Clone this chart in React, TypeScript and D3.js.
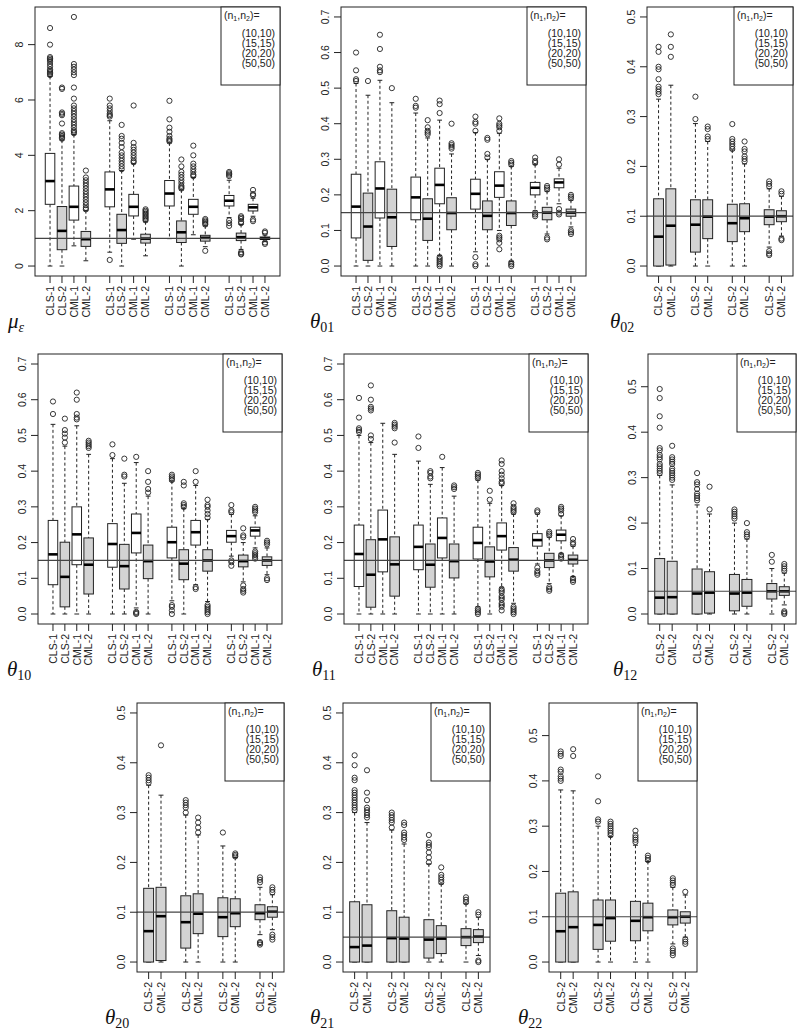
import React from "react";
import * as d3 from "d3";

const methods4 = ["CLS-1", "CLS-2", "CML-1", "CML-2"];
const methods2 = ["CLS-2", "CML-2"];
const sampleSizes = ["(10,10)", "(15,15)", "(20,20)", "(50,50)"];
const trueValues = [1, 0.15, 0.1, 0.15, 0.15, 0.05, 0.1, 0.05, 0.1];

// each box: [lower whisker, q1, median, q3, upper whisker]
const muStats = [
  [0, 2.23, 3.07, 4.07, 6.85], [0, 0.59, 1.27, 2.15, 4.55], [0.73, 1.66, 2.14, 2.89, 4.75], [0.19, 0.71, 0.97, 1.25, 2.0],
  [0.5, 2.14, 2.77, 3.4, 5.25], [0, 0.82, 1.3, 1.87, 3.45], [0.97, 1.81, 2.14, 2.59, 3.7], [0.37, 0.83, 0.99, 1.15, 1.6],
  [0.99, 2.17, 2.62, 3.09, 4.45], [0, 0.85, 1.22, 1.63, 2.75], [1.13, 1.87, 2.14, 2.41, 3.2], [0.7, 0.9, 1.02, 1.11, 1.45],
  [1.75, 2.17, 2.36, 2.55, 3.1], [0.6, 0.92, 1.04, 1.19, 1.5], [1.8, 1.99, 2.12, 2.23, 2.45], [0.88, 0.96, 1.0, 1.05, 1.12],
];
const muOut = [
  [6.9, 6.95, 7.0, 7.05, 7.1, 7.2, 7.3, 7.4, 7.45, 7.5, 7.55, 8.0, 8.6],
  [4.6, 4.65, 4.7, 4.75, 4.8, 5.15, 5.45, 5.5, 5.55, 6.4, 6.45],
  [4.8, 4.85, 4.9, 5.0, 5.1, 5.2, 5.3, 5.4, 5.5, 5.6, 5.7, 5.8, 6.05, 6.45, 6.9, 7.0, 7.1, 7.2, 7.3, 9.0],
  [2.05, 2.1, 2.2, 2.3, 2.4, 2.5, 2.6, 2.7, 2.8, 2.9, 3.0, 3.1, 3.2, 3.45],
  [0.22, 5.4, 5.45, 5.5, 5.6, 5.7, 5.8, 6.05],
  [3.5, 3.6, 3.7, 3.8, 3.9, 4.0, 4.1, 4.3, 4.45, 4.6, 4.7, 5.1],
  [3.75, 3.8, 3.9, 4.0, 4.1, 4.2, 4.3, 4.45, 5.8],
  [1.65, 1.7, 1.75, 1.8, 1.85, 1.9, 1.95, 2.0, 2.05],
  [4.5, 4.55, 4.6, 4.7, 4.85, 5.0, 5.3, 5.97],
  [2.8, 2.85, 2.9, 3.0, 3.1, 3.2, 3.3, 3.4, 3.6, 3.85],
  [3.25, 3.3, 3.4, 3.5, 3.6, 3.7, 4.0, 4.35],
  [0.55, 1.5, 1.55, 1.6, 1.65, 1.7],
  [1.45, 1.55, 1.65, 3.25, 3.3, 3.35, 3.4],
  [0.42, 0.45, 0.5, 1.55, 1.6, 1.7, 1.75, 1.8],
  [1.62, 1.68, 2.55, 2.6, 2.75],
  [0.8, 0.85, 1.2, 1.25],
];

const t01Stats = [
  [0, 0.079, 0.167, 0.258, 0.513], [0, 0.016, 0.111, 0.205, 0.48], [0, 0.135, 0.218, 0.293, 0.522], [0, 0.055, 0.137, 0.216, 0.459],
  [0, 0.13, 0.193, 0.25, 0.43], [0, 0.072, 0.133, 0.189, 0.36], [0.03, 0.175, 0.228, 0.275, 0.41], [0, 0.102, 0.149, 0.192, 0.315],
  [0.04, 0.16, 0.203, 0.244, 0.375], [0, 0.102, 0.141, 0.183, 0.3], [0.1, 0.193, 0.226, 0.265, 0.373], [0.013, 0.114, 0.149, 0.183, 0.28],
  [0.155, 0.2, 0.22, 0.235, 0.285], [0.09, 0.13, 0.15, 0.165, 0.21], [0.175, 0.22, 0.235, 0.245, 0.275], [0.11, 0.14, 0.15, 0.16, 0.185],
];
const t01Out = [
  [0.52, 0.525, 0.55, 0.6], [0.52], [0.545, 0.55, 0.56, 0.61, 0.65], [0.5],
  [0.445, 0.45, 0.47], [0.37, 0.375, 0.38, 0.39, 0.41], [0.0, 0.005, 0.01, 0.015, 0.02, 0.025, 0.43, 0.455, 0.465], [0.33, 0.335, 0.34, 0.345, 0.4],
  [0.0, 0.005, 0.025, 0.38, 0.4, 0.405, 0.42], [0.305, 0.315, 0.355, 0.36], [0.047, 0.065, 0.075, 0.08, 0.085, 0.38, 0.39, 0.395, 0.4, 0.415], [0.0, 0.005, 0.01, 0.285, 0.29, 0.295],
  [0.14, 0.145, 0.15, 0.29, 0.295, 0.305], [0.075, 0.08, 0.215, 0.22, 0.225], [0.145, 0.15, 0.16, 0.285, 0.3], [0.09, 0.095, 0.1, 0.19, 0.195, 0.2],
];

const t02Stats = [
  [0, 0, 0.059, 0.135, 0.335], [0, 0.002, 0.081, 0.155, 0.363],
  [0, 0.028, 0.083, 0.133, 0.286], [0, 0.055, 0.099, 0.133, 0.25],
  [0, 0.049, 0.086, 0.124, 0.233], [0, 0.069, 0.096, 0.125, 0.205],
  [0.038, 0.083, 0.099, 0.113, 0.155], [0.06, 0.089, 0.1, 0.111, 0.14],
];
const t02Out = [
  [0.345, 0.35, 0.355, 0.36, 0.375, 0.395, 0.4, 0.43, 0.44], [0.42, 0.44, 0.465],
  [0.295, 0.34], [0.255, 0.26, 0.275, 0.28],
  [0.235, 0.24, 0.245, 0.25, 0.255, 0.285], [0.21, 0.215, 0.22, 0.23, 0.235, 0.25],
  [0.022, 0.025, 0.03, 0.16, 0.165, 0.17], [0.052, 0.055, 0.145, 0.15],
];

const t10Stats = [
  [0, 0.082, 0.167, 0.262, 0.531], [0, 0.02, 0.104, 0.201, 0.47], [0, 0.138, 0.223, 0.3, 0.527], [0, 0.056, 0.138, 0.213, 0.447],
  [0, 0.131, 0.196, 0.253, 0.435], [0, 0.07, 0.134, 0.195, 0.366], [0.017, 0.171, 0.227, 0.28, 0.424], [0, 0.099, 0.148, 0.193, 0.33],
  [0.037, 0.157, 0.201, 0.243, 0.372], [0, 0.096, 0.141, 0.18, 0.295], [0.082, 0.193, 0.229, 0.262, 0.36], [0.035, 0.12, 0.15, 0.18, 0.265],
  [0.162, 0.201, 0.218, 0.234, 0.279], [0.09, 0.132, 0.148, 0.165, 0.2], [0.185, 0.218, 0.234, 0.243, 0.275], [0.11, 0.136, 0.15, 0.16, 0.185],
];
const t10Out = [
  [0.56, 0.595], [0.48, 0.494, 0.505, 0.515, 0.547], [0.545, 0.55, 0.56, 0.6, 0.62], [0.465, 0.47, 0.475, 0.48, 0.485],
  [0.445, 0.475], [0.385, 0.39, 0.435], [0, 0.003, 0.006, 0.44], [0.34, 0.35, 0.37, 0.4],
  [0, 0.01, 0.02, 0.025, 0.375, 0.38, 0.385, 0.39], [0.3, 0.305, 0.31, 0.36, 0.37], [0.07, 0.075, 0.37, 0.4], [0, 0.005, 0.01, 0.015, 0.02, 0.025, 0.27, 0.28, 0.29, 0.3, 0.305, 0.32],
  [0.135, 0.145, 0.15, 0.285, 0.29, 0.305], [0.06, 0.065, 0.07, 0.08, 0.215, 0.22, 0.24], [0.155, 0.16, 0.165, 0.17, 0.175, 0.285, 0.29, 0.295, 0.3], [0.095, 0.1, 0.195, 0.2, 0.205],
];

const t11Stats = [
  [0, 0.077, 0.168, 0.249, 0.5], [0, 0.019, 0.11, 0.208, 0.48], [0, 0.118, 0.209, 0.291, 0.534], [0, 0.05, 0.139, 0.216, 0.447],
  [0, 0.124, 0.188, 0.249, 0.428], [0, 0.075, 0.138, 0.196, 0.363], [0, 0.157, 0.213, 0.269, 0.41], [0, 0.101, 0.148, 0.196, 0.33],
  [0.02, 0.154, 0.199, 0.243, 0.375], [0, 0.104, 0.147, 0.188, 0.31], [0.075, 0.179, 0.218, 0.255, 0.36], [0.03, 0.12, 0.152, 0.186, 0.28],
  [0.14, 0.19, 0.207, 0.225, 0.28], [0.085, 0.13, 0.15, 0.17, 0.215], [0.17, 0.205, 0.222, 0.235, 0.275], [0.105, 0.14, 0.152, 0.165, 0.19],
];
const t11Out = [
  [0.51, 0.515, 0.52, 0.55, 0.605], [0.49, 0.5, 0.57, 0.575, 0.58, 0.6, 0.64], [], [0.48, 0.52, 0.525, 0.53, 0.535],
  [0.465, 0.497], [0.38, 0.385, 0.395, 0.4], [0.44], [0.35, 0.355, 0.36],
  [0, 0.005, 0.01, 0.015, 0.38, 0.385, 0.39, 0.395], [0.32, 0.345],
  [0.01, 0.02, 0.025, 0.03, 0.04, 0.045, 0.05, 0.06, 0.065, 0.07, 0.365, 0.37, 0.38, 0.39, 0.4, 0.42, 0.43],
  [0, 0.005, 0.01, 0.015, 0.02, 0.285, 0.29, 0.295, 0.3, 0.31],
  [0.11, 0.115, 0.12, 0.13, 0.285, 0.29], [0.065, 0.07, 0.075, 0.22, 0.225, 0.23], [0.155, 0.16, 0.165, 0.28, 0.29, 0.295, 0.3], [0.09, 0.095, 0.1, 0.195, 0.2, 0.21],
];

const t12Stats = [
  [0, 0, 0.036, 0.122, 0.305], [0, 0, 0.037, 0.116, 0.284],
  [0, 0, 0.045, 0.099, 0.24], [0, 0.002, 0.047, 0.093, 0.22],
  [0, 0.007, 0.045, 0.087, 0.2], [0, 0.017, 0.047, 0.076, 0.165],
  [0, 0.033, 0.05, 0.067, 0.1], [0.02, 0.041, 0.05, 0.06, 0.09],
];
const t12Out = [
  [0.31, 0.315, 0.32, 0.325, 0.33, 0.34, 0.345, 0.35, 0.36, 0.365, 0.41, 0.435, 0.475, 0.495],
  [0.295, 0.3, 0.305, 0.31, 0.315, 0.32, 0.33, 0.335, 0.34, 0.345, 0.37],
  [0.25, 0.255, 0.26, 0.265, 0.275, 0.285, 0.29, 0.31], [0.23, 0.28],
  [0.21, 0.215, 0.22, 0.225, 0.23], [0.17, 0.175, 0.18, 0.2],
  [0.115, 0.13], [0, 0.003, 0.006, 0.095, 0.1, 0.105, 0.11],
];

const t20Stats = [
  [0, 0, 0.062, 0.148, 0.355], [0, 0.003, 0.092, 0.15, 0.335],
  [0, 0.028, 0.08, 0.133, 0.295], [0, 0.057, 0.097, 0.137, 0.255],
  [0, 0.051, 0.09, 0.129, 0.233], [0, 0.071, 0.098, 0.127, 0.21],
  [0.055, 0.085, 0.098, 0.115, 0.15], [0.065, 0.09, 0.101, 0.111, 0.135],
];
const t20Out = [
  [0.36, 0.365, 0.37, 0.375], [0.435],
  [0.3, 0.31, 0.315, 0.32, 0.325], [0.26, 0.27, 0.28, 0.29],
  [0.26], [0.212, 0.215, 0.218],
  [0.035, 0.038, 0.04, 0.16, 0.165, 0.17], [0.045, 0.05, 0.055, 0.14, 0.145, 0.15],
];

const t21Stats = [
  [0, 0, 0.03, 0.121, 0.3], [0, 0, 0.033, 0.115, 0.28],
  [0, 0, 0.048, 0.103, 0.265], [0, 0, 0.047, 0.09, 0.237],
  [0, 0.008, 0.045, 0.085, 0.197], [0, 0.017, 0.047, 0.073, 0.157],
  [0, 0.033, 0.05, 0.067, 0.117], [0.013, 0.039, 0.051, 0.065, 0.09],
];
const t21Out = [
  [0.305, 0.31, 0.315, 0.32, 0.325, 0.33, 0.335, 0.34, 0.345, 0.365, 0.37, 0.395, 0.415],
  [0.29, 0.295, 0.3, 0.305, 0.31, 0.325, 0.34, 0.385],
  [0.27, 0.28, 0.285, 0.29, 0.295, 0.3], [0.245, 0.25, 0.255, 0.26, 0.275, 0.28],
  [0.2, 0.21, 0.22, 0.23, 0.235, 0.24, 0.255], [0.16, 0.165, 0.17, 0.175, 0.19],
  [0.12, 0.125, 0.13], [0, 0.003, 0.095, 0.1],
];

const t22Stats = [
  [0, 0, 0.068, 0.152, 0.38], [0, 0, 0.077, 0.155, 0.378],
  [0, 0.028, 0.082, 0.137, 0.3], [0, 0.046, 0.097, 0.137, 0.277],
  [0, 0.047, 0.091, 0.134, 0.258], [0, 0.069, 0.099, 0.13, 0.222],
  [0.04, 0.082, 0.099, 0.115, 0.165], [0.055, 0.086, 0.1, 0.111, 0.148],
];
const t22Out = [
  [0.4, 0.405, 0.41, 0.42, 0.425, 0.455, 0.46, 0.465], [0.455, 0.47],
  [0.31, 0.315, 0.355, 0.41], [0.28, 0.285, 0.29, 0.295, 0.3, 0.305, 0.31],
  [0.265, 0.27, 0.275, 0.28, 0.29], [0.225, 0.23, 0.235],
  [0.015, 0.02, 0.025, 0.03, 0.17, 0.175, 0.18, 0.185], [0.04, 0.045, 0.05, 0.155],
];

const sans = "'Liberation Sans', Arial, Helvetica, sans-serif";
const serif = "'Liberation Serif', 'DejaVu Serif', 'Times New Roman', serif";
const ink = "#222";

type PanelProps = {
  frame: number[]; // x0, x1, y0, y1
  ymax: number;
  nTicks: number;
  fmt: string;
  stats: number[][];
  outs: number[][];
  methods: string[];
  truth: number;
  sym: string;
  sub: string;
  subItalic?: boolean;
  lx: number;
};

function Panel(p: PanelProps) {
  const [x0, x1, y0, y1] = p.frame;
  const per = p.methods.length;
  // R boxplot "at" positions: groups separated by one empty slot
  const at = p.stats.map((_, i) => Math.floor(i / per) * (per + 1) + (i % per) + 1);
  const last = d3.max(at) as number;
  const ext = 0.04 * last;
  const x = d3.scaleLinear().domain([0.5 - ext, last + 0.5 + ext]).range([x0, x1]);
  const y = d3.scaleLinear().domain([-0.04 * p.ymax, p.ymax * 1.04]).range([y1, y0]);
  const bw = x(0.8) - x(0);
  const sw = bw / 2;
  const ticks = y.ticks(p.nTicks).filter(t => t <= p.ymax + 1e-9);
  const f = d3.format(p.fmt);
  const lgW = 59, lgH = 78;

  return (
    <g>
      {/* y axis */}
      {ticks.map(t => (
        <g key={"yt" + t}>
          <line x1={x0 - 7} x2={x0} y1={y(t)} y2={y(t)} stroke={ink} strokeWidth={1} />
          <text transform={`translate(${x0 - 12},${y(t)}) rotate(-90)`} textAnchor="middle"
            fontFamily={sans} fontSize={10.5} fill={ink}>{f(t)}</text>
        </g>
      ))}
      {/* x axis */}
      {at.map((a, i) => (
        <g key={"xt" + i}>
          <line x1={x(a)} x2={x(a)} y1={y1} y2={y1 + 7} stroke={ink} strokeWidth={1} />
          <text transform={`translate(${x(a) + 3.8},${y1 + 10}) rotate(-90)`} textAnchor="end"
            fontFamily={sans} fontSize={10.5} fill={ink}>{p.methods[i % per]}</text>
        </g>
      ))}
      {/* boxes */}
      {p.stats.map((s, i) => {
        const cx = x(at[i]);
        const [lo, q1, md, q3, hi] = s;
        const fill = p.methods[i % per].endsWith("2") ? "#d3d3d3" : "#ffffff";
        return (
          <g key={"b" + i}>
            <line x1={cx} x2={cx} y1={y(hi)} y2={y(q3)} stroke={ink} strokeDasharray="3,2.5" />
            <line x1={cx} x2={cx} y1={y(q1)} y2={y(lo)} stroke={ink} strokeDasharray="3,2.5" />
            <line x1={cx - sw / 2} x2={cx + sw / 2} y1={y(hi)} y2={y(hi)} stroke={ink} />
            <line x1={cx - sw / 2} x2={cx + sw / 2} y1={y(lo)} y2={y(lo)} stroke={ink} />
            <rect x={cx - bw / 2} y={y(q3)} width={bw} height={Math.max(0.5, y(q1) - y(q3))}
              fill={fill} stroke={ink} strokeWidth={1} />
            <line x1={cx - bw / 2} x2={cx + bw / 2} y1={y(md)} y2={y(md)} stroke="#000" strokeWidth={2.6} />
            {p.outs[i].map((o, j) => (
              <circle key={j} cx={cx} cy={y(o)} r={2.6} fill="none" stroke={ink} strokeWidth={0.9} />
            ))}
          </g>
        );
      })}
      {/* true value */}
      <line x1={x0} x2={x1} y1={y(p.truth)} y2={y(p.truth)} stroke="#444" strokeWidth={1.2} />
      {/* frame */}
      <rect x={x0} y={y0} width={x1 - x0} height={y1 - y0} fill="none" stroke={ink} strokeWidth={1} />
      {/* legend */}
      <rect x={x1 - lgW} y={y0} width={lgW} height={lgH} fill="#fff" stroke={ink} strokeWidth={1} />
      <text x={x1 - lgW + 3} y={y0 + 12} fontFamily={sans} fontSize={10.5} fill={ink}>
        (n<tspan fontSize={7} dy={2}>1</tspan><tspan dy={-2}>,n</tspan>
        <tspan fontSize={7} dy={2}>2</tspan><tspan dy={-2}>)=</tspan>
      </text>
      {sampleSizes.map((s, k) => (
        <text key={s} x={x1 - 5} y={y0 + 30 + k * 10} textAnchor="end" fontFamily={sans}
          fontSize={10.5} fill={ink}>{s}</text>
      ))}
      {/* panel label */}
      <text x={p.lx} y={y1 + 52} fontFamily={serif} fontSize={21} fontStyle="italic" fill="#111">
        {p.sym}
        <tspan fontSize={14} dy={4} fontStyle={p.subItalic ? "italic" : "normal"}>{p.sub}</tspan>
      </text>
    </g>
  );
}

export default function App() {
  const panels: PanelProps[] = [
    { frame: [35, 280, 7, 276], ymax: 9, nTicks: 5, fmt: "d", stats: muStats, outs: muOut, methods: methods4, truth: trueValues[0], sym: "μ", sub: "ε", subItalic: true, lx: 8 },
    { frame: [341, 586, 7, 276], ymax: 0.7, nTicks: 7, fmt: ".1f", stats: t01Stats, outs: t01Out, methods: methods4, truth: trueValues[1], sym: "θ", sub: "01", lx: 310 },
    { frame: [647, 793, 7, 276], ymax: 0.5, nTicks: 5, fmt: ".1f", stats: t02Stats, outs: t02Out, methods: methods2, truth: trueValues[2], sym: "θ", sub: "02", lx: 610 },
    { frame: [38, 282, 354, 624], ymax: 0.7, nTicks: 7, fmt: ".1f", stats: t10Stats, outs: t10Out, methods: methods4, truth: trueValues[3], sym: "θ", sub: "10", lx: 7 },
    { frame: [344, 588, 354, 624], ymax: 0.7, nTicks: 7, fmt: ".1f", stats: t11Stats, outs: t11Out, methods: methods4, truth: trueValues[4], sym: "θ", sub: "11", lx: 312 },
    { frame: [648, 796, 354, 624], ymax: 0.55, nTicks: 5, fmt: ".1f", stats: t12Stats, outs: t12Out, methods: methods2, truth: trueValues[5], sym: "θ", sub: "12", lx: 613 },
    { frame: [137, 284, 703, 972], ymax: 0.5, nTicks: 5, fmt: ".1f", stats: t20Stats, outs: t20Out, methods: methods2, truth: trueValues[6], sym: "θ", sub: "20", lx: 105 },
    { frame: [343, 490, 703, 972], ymax: 0.5, nTicks: 5, fmt: ".1f", stats: t21Stats, outs: t21Out, methods: methods2, truth: trueValues[7], sym: "θ", sub: "21", lx: 310 },
    { frame: [549, 697, 703, 972], ymax: 0.55, nTicks: 5, fmt: ".1f", stats: t22Stats, outs: t22Out, methods: methods2, truth: trueValues[8], sym: "θ", sub: "22", lx: 518 },
  ];
  return (
    <svg width={802} height={1034} style={{ position: "absolute", left: 0, top: 0, background: "#fff" }}>
      <rect width={802} height={1034} fill="#fff" />
      {panels.map((p, i) => <Panel key={i} {...p} />)}
    </svg>
  );
}
